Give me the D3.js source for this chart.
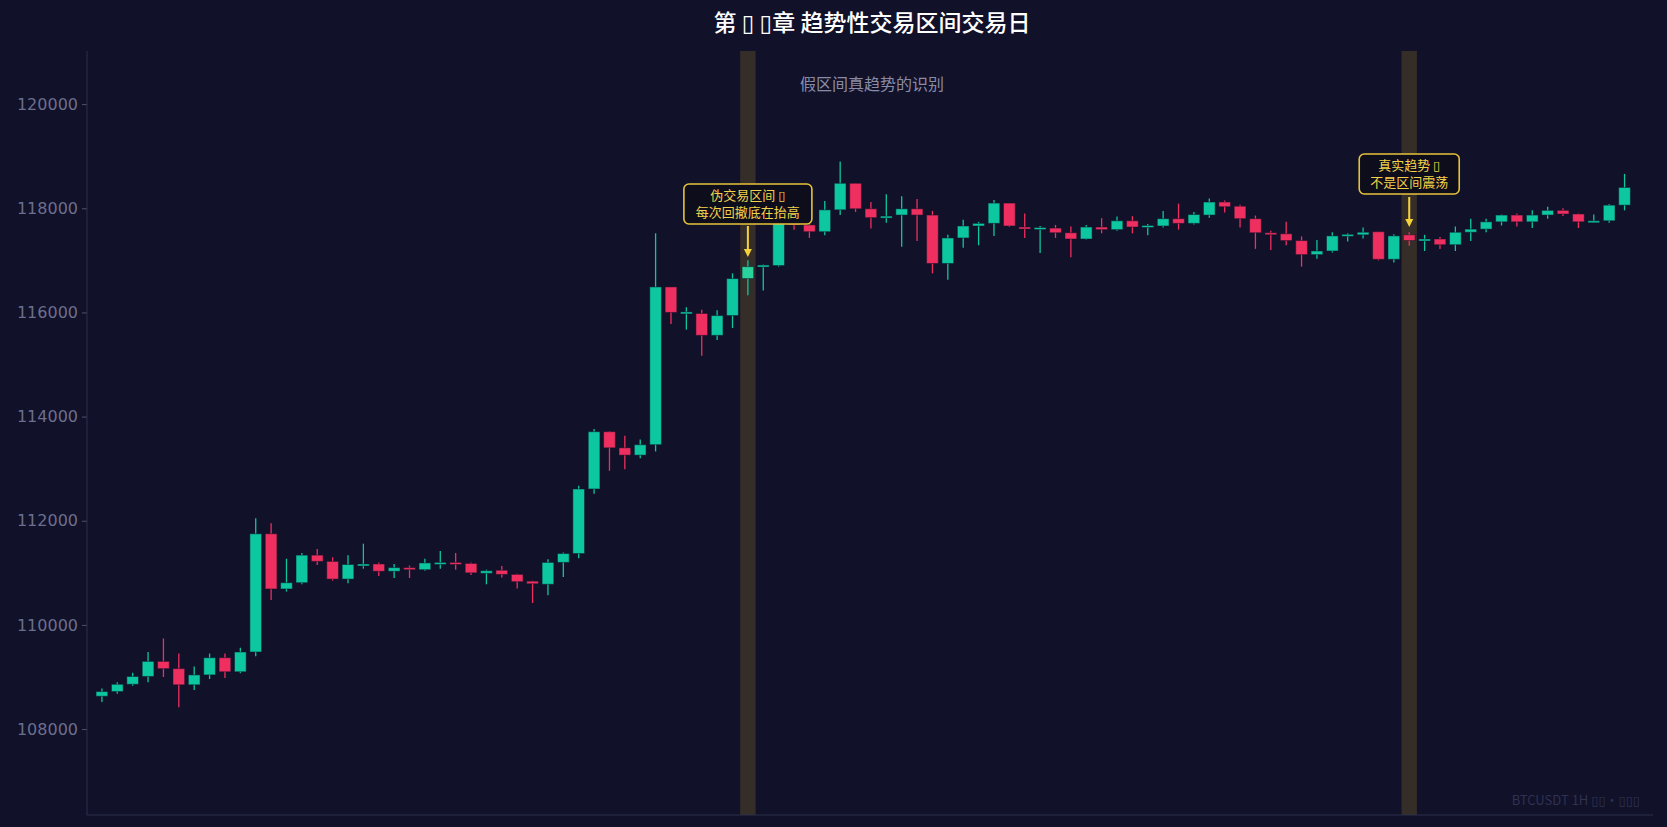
<!DOCTYPE html>
<html><head><meta charset="utf-8">
<script src="https://cdn.jsdelivr.net/npm/d3@7/dist/d3.min.js"></script>
<style>html,body{margin:0;padding:0;background:#11112a;}svg{display:block;font-family:"Noto Sans CJK SC","DejaVu Sans",sans-serif;}</style>
</head><body><svg id="c" width="1667" height="827"></svg>
<script>
const opens  = [108630,108720,108860,109010,109300,109160,108850,109040,109370,109100,109480,111750,110690,110810,111340,111220,110880,111150,111170,111030,111100,111060,111180,111200,111180,110990,111050,110970,110840,110780,111200,111370,112610,113710,113400,113260,113460,116490,115990,115980,115560,115940,116650,116880,116900,117770,117680,117550,117970,118480,117990,117820,117870,117990,117870,116940,117430,117660,117710,118100,117640,117610,117620,117530,117410,117640,117590,117760,117650,117660,117800,117710,117870,118120,118040,117800,117530,117510,117380,117110,117180,117480,117490,117550,117020,117490,117390,117410,117300,117540,117600,117740,117870,117740,117870,117960,117890,117740,117760,118060];
const highs  = [108780,108900,109080,109480,109740,109450,109200,109450,109450,109560,112050,111950,111270,111380,111460,111300,111340,111560,111200,111170,111140,111270,111420,111380,111200,111060,111130,110980,110850,111260,111390,112670,113760,113720,113630,113560,117520,116490,116100,116050,116040,116750,117000,116920,118420,118300,117700,118140,118900,118480,118120,118270,118230,118180,117950,117490,117780,117740,118160,118100,117900,117660,117680,117650,117680,117810,117840,117850,117700,117950,118090,117930,118190,118150,118070,117860,117570,117740,117460,117390,117540,117520,117630,117550,117500,117540,117490,117450,117650,117800,117800,117880,117900,117960,118030,118000,117900,117880,118080,118660];
const lows   = [108520,108680,108830,108900,109000,108420,108750,108960,108980,109070,109400,110480,110640,110780,111150,110850,110800,111080,110940,110900,110900,111040,111080,111060,110960,110780,110910,110700,110420,110570,110920,111280,112520,112960,112990,113200,113330,115780,115670,115170,115470,115700,116330,116420,116880,117590,117430,117480,117870,117930,117610,117720,117260,117370,116750,116630,117240,117290,117470,117640,117430,117140,117430,117060,117400,117520,117570,117520,117480,117630,117590,117690,117820,117920,117630,117220,117200,117290,116880,117030,117150,117360,117420,117000,116960,117280,117180,117220,117180,117370,117540,117670,117650,117620,117800,117850,117620,117720,117720,117960];
const closes = [108720,108860,109010,109300,109160,108850,109040,109370,109100,109480,111750,110690,110810,111340,111220,110880,111160,111170,111030,111100,111060,111190,111200,111180,111000,111040,110970,110830,110790,111200,111370,112610,113710,113400,113260,113460,116490,116000,116010,115560,115940,116650,116880,116910,117800,117680,117550,117970,118480,117990,117820,117850,117990,117870,116940,117430,117660,117710,118100,117660,117610,117630,117530,117410,117640,117590,117760,117640,117670,117800,117710,117880,118120,118030,117800,117530,117510,117380,117110,117180,117470,117500,117540,117020,117470,117380,117410,117300,117540,117600,117740,117870,117740,117870,117960,117890,117740,117760,118060,118400];
const yTicks = [108000,110000,112000,114000,116000,118000,120000];
const highlightIdx = [42, 85];
const notes = [
  {idx:42, lines:["伪交易区间 ▯","每次回撤底在抬高"], boxTop:184, boxH:40, arrowTop:226, arrowBot:257},
  {idx:85, lines:["真实趋势 ▯","不是区间震荡"], boxTop:154, boxH:40, arrowTop:197, arrowBot:227}
];
const titleText = "第 ▯ ▯章 趋势性交易区间交易日";
const subtitleText = "假区间真趋势的识别";
const watermark = "BTCUSDT 1H  ▯▯·▯▯▯";

const svg = d3.select("#c");
const L=87,R=1653,T=51,B=815;
const x = d3.scaleLinear().domain([-0.97,100.85]).range([L,R]);
const y = d3.scaleLinear().domain([106350,121020]).range([B,T]);
const step = x(1)-x(0), bw = step*0.76;
const green="#0cc7a0", red="#ef2f5f";

svg.append("text").attr("x",872).attr("y",31).attr("text-anchor","middle").attr("fill","#ffffff").attr("font-size",23).attr("font-weight","500").text(titleText);

svg.selectAll("rect.hl").data(highlightIdx).join("rect").attr("class","hl")
  .attr("x",d=>x(d)-step/2).attr("width",step).attr("y",T).attr("height",B-T).attr("fill","#3a3228").attr("opacity",0.9);

svg.append("text").attr("x",872).attr("y",90).attr("text-anchor","middle").attr("fill","#8a8ca6").attr("font-size",16).text(subtitleText);

const ya = d3.axisLeft(y).tickValues(yTicks).tickFormat(d3.format("d")).tickSize(5).tickPadding(4);
const g = svg.append("g").attr("transform",`translate(${L},0)`).call(ya);
g.select(".domain").remove();
g.selectAll(".tick line").attr("stroke","#50526a");
g.selectAll(".tick text").attr("fill","#6c6f8c").attr("font-size",16).attr("font-family","DejaVu Sans");
svg.append("line").attr("x1",L).attr("x2",L).attr("y1",T).attr("y2",B).attr("stroke","#2c2e48");
svg.append("line").attr("x1",L).attr("x2",R).attr("y1",B).attr("y2",B).attr("stroke","#2c2e48");

const data = opens.map((o,i)=>({i,o,h:highs[i],l:lows[i],c:closes[i]}));
const col = d=>d.c>=d.o?green:red;
svg.selectAll("line.w").data(data).join("line").attr("class","w")
  .attr("x1",d=>x(d.i)).attr("x2",d=>x(d.i)).attr("y1",d=>y(d.h)).attr("y2",d=>y(d.l))
  .attr("stroke",col).attr("stroke-width",1.3);
svg.selectAll("rect.b").data(data).join("rect").attr("class","b")
  .attr("x",d=>x(d.i)-bw/2).attr("width",bw)
  .attr("y",d=>y(Math.max(d.o,d.c))).attr("height",d=>Math.max(2,Math.abs(y(d.o)-y(d.c))))
  .attr("fill",d=>d.i===42?"#2ad39c":col(d)).attr("stroke","#11112a").attr("stroke-opacity",0.5).attr("stroke-width",1);

notes.forEach(n=>{
  const cx=x(n.idx);
  const w= n.lines[1].length*14+16;
  svg.append("rect").attr("x",cx-w/2).attr("y",n.boxTop).attr("width",w).attr("height",n.boxH).attr("rx",5)
    .attr("fill","#0d0d1c").attr("stroke","#e6c23a").attr("stroke-width",1.6);
  n.lines.forEach((t,k)=>svg.append("text").attr("x",cx).attr("y",n.boxTop+16+k*17).attr("text-anchor","middle")
    .attr("fill","#f2d34a").attr("font-size",13).text(t));
  svg.append("line").attr("x1",cx).attr("x2",cx).attr("y1",n.arrowTop).attr("y2",n.arrowBot-6).attr("stroke","#f5d23a").attr("stroke-width",2);
  svg.append("path").attr("d",`M${cx-4},${n.arrowBot-8}L${cx+4},${n.arrowBot-8}L${cx},${n.arrowBot}Z`).attr("fill","#f5d23a");
});

svg.append("text").attr("x",1640).attr("y",805).attr("text-anchor","end").attr("fill","#2f3250").attr("font-size",13).text(watermark);
</script></body></html>
